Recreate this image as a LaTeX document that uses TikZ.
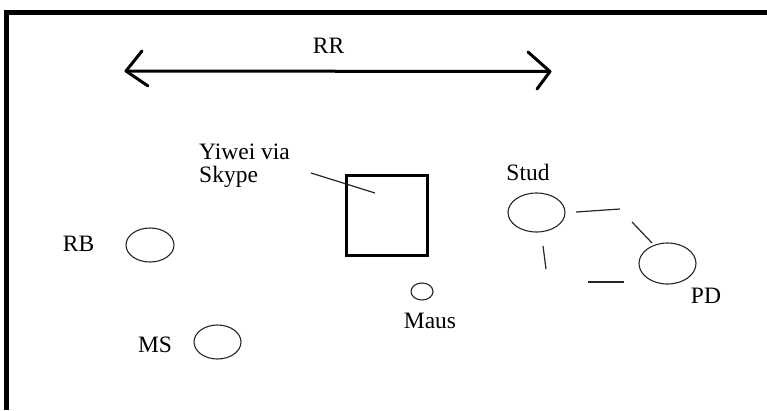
\documentclass[tikz,border=0pt]{standalone}
\usepackage{fontspec}
\setmainfont{Liberation Serif}
\usetikzlibrary{shapes.geometric}
\begin{document}
\begin{tikzpicture}[x=1pt,y=-1pt,
  lbl/.style={font=\fontsize{23.5}{23}\selectfont, inner sep=0pt},
  person/.style={ellipse, draw=black!85, line width=1.1pt, inner sep=0pt},
  stroke/.style={draw=black!85, line width=1.2pt},
  heavy/.style={line width=3pt, line cap=round, line join=round}]
\useasboundingbox (0,0) rectangle (767,410);
% frame
\fill[black] (3.5,9.5) rectangle (767,14.5);
\fill[black] (3.5,9.5) rectangle (8.5,410);
% RR arrow
\coordinate (rrL) at (126,71);
\coordinate (rrR) at (550,71.5);
\draw[heavy] (rrL) -- (rrR);
\draw[heavy] (142,51) -- (rrL) -- (148,86);
\draw[heavy] (528,52) -- (rrR) -- (537,89);
\node[lbl] (rr) at (328.5,45.5) {RR};
% Yiwei box
\node[draw, line width=3.5pt, minimum width=81pt, minimum height=80pt, inner sep=0pt] (box) at (387,215.5) {};
\node[lbl, align=left, anchor=west] (yiwei) at (199,166) {Yiwei via\\Skype};
\coordinate (lead1) at (311,173);
\coordinate (lead2) at (375,193);
\draw[stroke] (lead1) -- (lead2);
% people
\node[person, minimum width=48pt, minimum height=34pt] (rb) at (150,245) {};
\node[lbl] (rbt) at (78.5,244) {RB};
\node[person, minimum width=47pt, minimum height=34pt] (ms) at (217.5,342) {};
\node[lbl] (mst) at (155,345) {MS};
\node[person, minimum width=22pt, minimum height=17pt] (maus) at (422,291.5) {};
\node[lbl] (maust) at (430,320.5) {Maus};
\node[person, minimum width=57pt, minimum height=39pt] (stud) at (536.5,212.5) {};
\node[lbl] (studt) at (528,172.5) {Stud};
\node[person, minimum width=57pt, minimum height=41pt] (pd) at (667.5,263.5) {};
\node[lbl] (pdt) at (706,296) {PD};
% broken connection lines
\coordinate (s1) at (576,212); \coordinate (s2) at (620,209);
\coordinate (s3) at (632,222); \coordinate (s4) at (652,243);
\coordinate (s5) at (543,246); \coordinate (s6) at (546,269);
\coordinate (s7) at (588,282); \coordinate (s8) at (624,282);
\draw[stroke] (s1) -- (s2);
\draw[stroke] (s3) -- (s4);
\draw[stroke] (s5) -- (s6);
\draw[stroke] (s7) -- (s8);
\end{tikzpicture}
\end{document}
